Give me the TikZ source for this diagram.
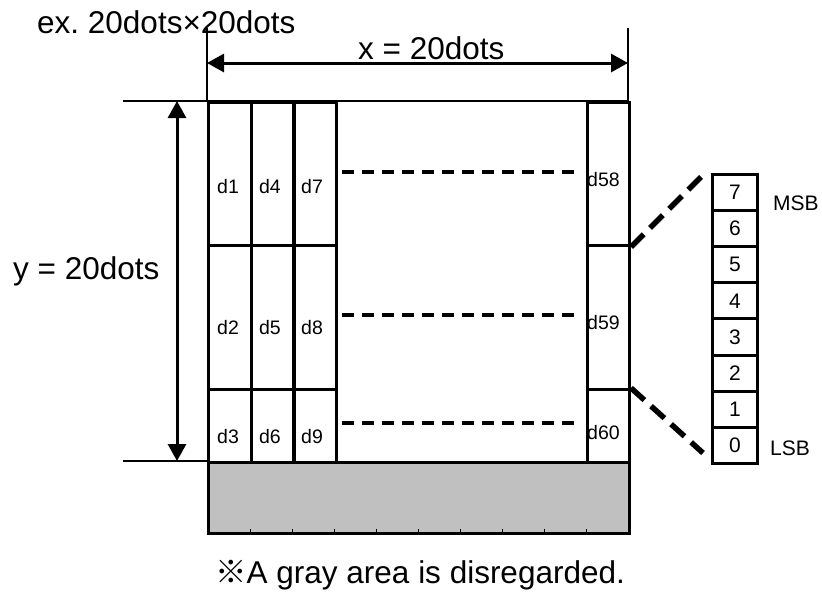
\documentclass[tikz,border=0pt]{standalone}
\usepackage{fontspec}
\setmainfont{Liberation Sans}
\newfontfamily\cjk{Noto Sans CJK JP}
\usetikzlibrary{arrows.meta}
\frenchspacing
\begin{document}
\begin{tikzpicture}[x=1pt,y=-1pt,
  thinln/.style={line width=1.5pt},
  bigtxt/.style={font=\fontsize{31.5}{36}\selectfont, inner sep=0pt, anchor=base west},
  celltxt/.style={font=\fontsize{19.5}{22}\selectfont, inner sep=0pt},
  bittxt/.style={font=\fontsize{21}{24}\selectfont, inner sep=0pt},
  dimarrow/.style={line width=3pt, {Triangle[length=17pt,width=18pt]}-{Triangle[length=17pt,width=18pt]}},
  middash/.style={line width=3.5pt, dash pattern=on 12pt off 8pt},
  bitdash/.style={line width=5.5pt, dash pattern=on 18pt off 9pt},
  cellbox/.style={draw, line width=3pt, inner sep=0pt}
]
\useasboundingbox (0,0) rectangle (822,592);

% extension lines
\draw[thinln] (207,28) -- (207,101);
\draw[thinln] (628,28) -- (628,101);
\draw[thinln] (123,101) -- (628,101);
\draw[thinln] (123,461) -- (207,461);

% dimension arrows
\coordinate (xl) at (207,63);
\coordinate (xr) at (628,63);
\coordinate (yt) at (177,101);
\coordinate (yb) at (177,461);
\draw[dimarrow] (xl) -- (xr);
\draw[dimarrow] (yt) -- (yb);

% gray area
\node[cellbox, fill={rgb,255:red,192;green,192;blue,192}, minimum width=421pt, minimum height=71pt, anchor=north west] (gray) at (207,461) {};
\foreach \tx in {250,292,334,376,418,460,502,544,586}
  \draw[line width=1pt] (\tx,528.5) -- (\tx,532);

% left cells
\foreach \cx/\cname in {207/a,250/b,292/c}{
  \node[cellbox, minimum width=43pt, minimum height=143pt, anchor=north west] (\cname1) at (\cx,101) {};
  \node[cellbox, minimum width=43pt, minimum height=144pt, anchor=north west] (\cname2) at (\cx,244) {};
  \node[cellbox, minimum width=43pt, minimum height=73pt, anchor=north west] (\cname3) at (\cx,388) {};
}
% right cells
\node[cellbox, minimum width=42pt, minimum height=143pt, anchor=north west] (r1) at (586,101) {};
\node[cellbox, minimum width=42pt, minimum height=144pt, anchor=north west] (r2) at (586,244) {};
\node[cellbox, minimum width=42pt, minimum height=73pt, anchor=north west] (r3) at (586,388) {};

% cell labels
\node[celltxt] (ld1) at (228,187) {d1};
\node[celltxt] (ld4) at (270,187) {d4};
\node[celltxt] (ld7) at (312,187) {d7};
\node[celltxt] (ld2) at (228,328) {d2};
\node[celltxt] (ld5) at (270,328) {d5};
\node[celltxt] (ld8) at (312,328) {d8};
\node[celltxt] (ld3) at (228,437) {d3};
\node[celltxt] (ld6) at (270,437) {d6};
\node[celltxt] (ld9) at (312,437) {d9};
\node[celltxt, anchor=west] (ld58) at (587,180) {d58};
\node[celltxt, anchor=west] (ld59) at (587,323) {d59};
\node[celltxt, anchor=west] (ld60) at (587,433) {d60};

% middle dashed lines
\draw[middash] (342,172) -- (578,172);
\draw[middash] (342,315) -- (578,315);
\draw[middash] (342,423) -- (578,423);

% bit box
\foreach \i/\b in {0/7,1/6,2/5,3/4,4/3,5/2,6/1,7/0}{
  \node[cellbox, minimum width=45pt, minimum height=36.1pt, anchor=north west] (bit\b) at (711,{173+36.1*\i}) {};
  \node[bittxt] (bl\b) at (bit\b.center) {\b};
}
\coordinate (dtop) at (703,175);
\coordinate (dbot) at (703,453);
\draw[bitdash] (r1.south east) -- (dtop);
\draw[bitdash] (r3.north east) -- (dbot);

\node[bittxt, anchor=base west] (msb) at (773,210) {MSB};
\node[bittxt, anchor=base west] (lsb) at (770,455) {LSB};

% texts
\node[bigtxt] (title) at (37,33) {ex. 20dots×20dots};
\node[bigtxt] (xlab) at (358,59) {x = 20dots};
\node[bigtxt] (ylab) at (13,279) {y = 20dots};
\node[bigtxt] (note) at (215,583) {{\cjk ※}A gray area is disregarded.};
\end{tikzpicture}
\end{document}
